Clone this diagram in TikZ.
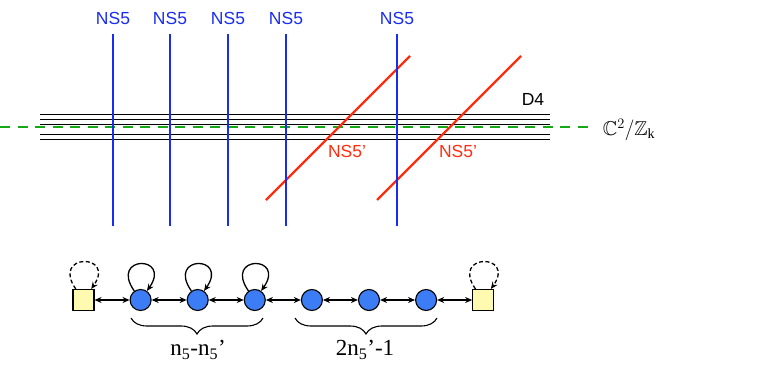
\documentclass[tikz,border=0pt]{standalone}
\usepackage{amsmath,amssymb}
\usepackage{fontspec}
\setmainfont{Liberation Serif}
\setsansfont{Liberation Sans}
\usepackage{xcolor}
\usepackage{tikz}
\usetikzlibrary{arrows.meta,positioning,decorations.pathreplacing,calc}

\definecolor{nsblue}{RGB}{25,45,240}
\definecolor{nsred}{RGB}{255,45,15}
\definecolor{orbgreen}{RGB}{20,170,20}
\definecolor{gaugeblue}{RGB}{60,125,245}
\definecolor{flavyellow}{RGB}{255,250,175}

\begin{document}
\begin{tikzpicture}[x=1pt,y=-1pt,
  every node/.style={font=\sffamily\fontsize{17.5}{20}\selectfont},
  gauge/.style={circle, draw, line width=1.1pt, fill=gaugeblue, minimum size=21pt, inner sep=0pt},
  flavor/.style={rectangle, draw, line width=1.1pt, fill=flavyellow, minimum size=21pt, inner sep=0pt},
  link/.style={{Stealth[length=7pt,width=6pt]}-{Stealth[length=7pt,width=6pt]}, line width=1.3pt},
  adj/.style={-{Stealth[length=7pt,width=6pt]}, line width=1.3pt},
  node distance=35pt]
\useasboundingbox (0,0) rectangle (763,370);

% D4 stack and orbifold line
\foreach \y in {114.3,119.4,124.5,129.5,134.6,139.7}{
  \draw[line width=1pt] (40,\y) -- (550,\y);
}
\draw[white, line width=5pt] (40,127) -- (550,127);
\draw[orbgreen, line width=2.8pt, dash pattern=on 10pt off 7.5pt] (0,127) -- (590,127);
\node (dfour) at (533,99) {D4};
\node[font=\fontsize{20}{24}\selectfont] (orb) at (629,130) {$\mathbb{C}^2/\mathbb{Z}_{\mathrm{k}}$};

% NS5' branes
\draw[nsred, line width=2.4pt] (266,200) -- (410,56);
\draw[nsred, line width=2.4pt] (377,200) -- (521,56);
\node[nsred] (nsp1) at (347,151.5) {NS5’};
\node[nsred] (nsp2) at (458,151.5) {NS5’};

% NS5 branes
\foreach \x/\n in {113/1,170/2,228/3,286/4,397/5}{
  \draw[nsblue, line width=2.8pt] (\x,34) -- (\x,226);
  \node[nsblue] (ns\n) at (\x,18) {NS5};
}

% quiver
\node[flavor] (fl) at (83.5,300) {};
\node[gauge, right=of fl] (g1) {};
\node[gauge, right=of g1] (g2) {};
\node[gauge, right=of g2] (g3) {};
\node[gauge, right=of g3] (g4) {};
\node[gauge, right=of g4] (g5) {};
\node[gauge, right=of g5] (g6) {};
\node[flavor, right=of g6] (fr) {};

\draw[link] (fl) -- (g1);
\draw[link] (g1) -- (g2);
\draw[link] (g2) -- (g3);
\draw[link] (g3) -- (g4);
\draw[link] (g4) -- (g5);
\draw[link] (g5) -- (g6);
\draw[link] (g6) -- (fr);

\foreach \g in {g1,g2,g3}{
  \draw[adj] (\g) to[out=125,in=55,distance=44pt] (\g);
}
\draw[adj, dash pattern=on 4pt off 2.5pt] (fl) to[out=125,in=55,distance=44pt] (fl);
\draw[adj, dash pattern=on 4pt off 2.5pt] (fr) to[out=125,in=55,distance=44pt] (fr);

% braces
\draw[line width=1.1pt, decorate, decoration={brace, mirror, amplitude=16pt}] (131,318) -- (263,318);
\draw[line width=1.1pt, decorate, decoration={brace, mirror, amplitude=16pt}] (295,318) -- (437,318);
\node[font=\rmfamily\fontsize{23}{27}\selectfont] (lab1) at (198,350) {n\textsubscript{5}-n\textsubscript{5}’};
\node[font=\rmfamily\fontsize{23}{27}\selectfont] (lab2) at (365,350) {2n\textsubscript{5}’-1};
\end{tikzpicture}
\end{document}
